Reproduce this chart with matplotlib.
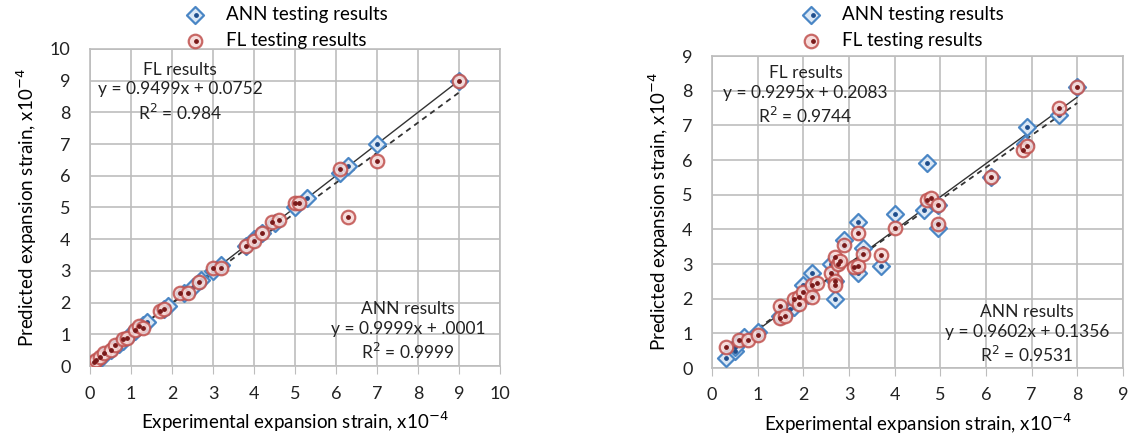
import numpy as np
import matplotlib
matplotlib.use('Agg')
import matplotlib.pyplot as plt
from matplotlib.legend_handler import HandlerTuple

plt.rcParams['font.family'] = ['Lato', 'DejaVu Sans']

# --- dados: grafico da esquerda ---
ann1_x = [0.1, 0.2, 0.3, 0.5, 0.7, 0.8, 1.0, 1.1, 1.3, 1.4, 1.8, 1.9, 2.3, 2.5, 2.7,
          3.0, 3.2, 3.8, 4.0, 4.2, 4.5, 5.0, 5.3, 6.1, 6.3, 7.0, 9.0]
ann1_y = [0.1, 0.2, 0.3, 0.5, 0.7, 0.8, 1.0, 1.1, 1.3, 1.4, 1.8, 1.9, 2.3, 2.5, 2.7,
          3.0, 3.2, 3.8, 4.0, 4.2, 4.5, 5.0, 5.3, 6.1, 6.3, 7.0, 9.0]
fl1_x = [0.1, 0.15, 0.25, 0.35, 0.5, 0.6, 0.8, 0.9, 1.1, 1.2, 1.3, 1.7, 1.8, 2.2, 2.4,
         2.65, 3.0, 3.2, 3.8, 4.0, 4.2, 4.45, 4.6, 5.0, 5.1, 6.1, 6.3, 7.0, 9.0]
fl1_y = [0.12, 0.2, 0.3, 0.4, 0.5, 0.65, 0.85, 0.9, 1.15, 1.25, 1.2, 1.75, 1.8, 2.3, 2.3,
         2.65, 3.1, 3.1, 3.8, 3.95, 4.2, 4.55, 4.6, 5.15, 5.15, 6.2, 4.7, 6.45, 9.0]

# --- dados: grafico da direita ---
ann2_x = [0.3, 0.5, 0.5, 0.7, 1.0, 1.5, 1.7, 1.8, 2.0, 2.1, 2.2, 2.6, 2.7, 2.7, 2.9,
          3.2, 3.2, 3.3, 3.7, 4.0, 4.65, 4.7, 4.95, 4.95, 6.1, 6.85, 6.9, 7.6, 8.0]
ann2_y = [0.3, 0.5, 0.6, 0.9, 1.05, 1.5, 1.7, 1.75, 2.4, 2.1, 2.75, 3.0, 2.5, 2.0, 3.7,
          4.2, 2.75, 3.45, 2.95, 4.45, 4.55, 5.9, 4.7, 4.05, 5.5, 6.45, 6.95, 7.3, 8.1]
fl2_x = [0.3, 0.6, 0.8, 1.0, 1.5, 1.5, 1.6, 1.8, 1.9, 1.9, 2.0, 2.2, 2.2, 2.3, 2.6,
         2.7, 2.7, 2.7, 2.75, 2.8, 2.9, 3.1, 3.2, 3.2, 3.3, 3.7, 4.0, 4.7, 4.8,
         4.95, 4.95, 6.1, 6.8, 6.9, 7.6, 8.0]
fl2_y = [0.6, 0.8, 0.8, 0.95, 1.8, 1.45, 1.5, 2.0, 2.05, 1.85, 2.2, 2.4, 2.05, 2.45, 2.75,
         3.2, 2.5, 2.4, 3.0, 3.1, 3.55, 2.9, 2.95, 3.9, 3.3, 3.25, 4.05, 4.85, 4.9,
         4.7, 4.15, 5.5, 6.3, 6.4, 7.5, 8.1]

# regressoes (coeficientes do grafico original)
ann1_fit = (0.9999, 0.0001)
fl1_fit = (0.9499, 0.0752)
ann2_fit = (0.9602, 0.1356)
fl2_fit = (0.9295, 0.2083)

ann_edge, ann_face, ann_dot = '#4a86c5', '#dce8f5', '#1f4e8c'
fl_edge, fl_face, fl_dot = '#c0504d', '#f6d8d6', '#7a1a1a'
grid_c = '#bdbdbd'


def plot_panel(ax, ax_x, ax_y, fx, fy, ann_fit, fl_fit, lim, fl_txt, ann_txt, fl_pos, ann_pos):
    ax.set_xlim(0, lim)
    ax.set_ylim(0, lim)
    ax.set_xticks(range(lim + 1))
    ax.set_yticks(range(lim + 1))
    ax.grid(True, color=grid_c, linewidth=1.2)
    ax.set_axisbelow(True)
    for s in ax.spines.values():
        s.set_color(grid_c)
        s.set_linewidth(1.2)
    ax.tick_params(axis='y', length=0, labelsize=13, pad=14, colors='#222222')
    ax.tick_params(axis='x', length=6, color=grid_c, labelsize=13, pad=8,
                   colors='#222222')

    # linhas de tendencia
    xa = np.array([min(ax_x), max(ax_x)])
    ax.plot(xa, ann_fit[0] * xa + ann_fit[1], color='#333333', lw=1.0, zorder=3)
    xf = np.array([min(fx), max(fx)])
    ax.plot(xf, fl_fit[0] * xf + fl_fit[1], color='#333333', lw=1.3,
            ls=(0, (3, 2.5)), zorder=3)

    a1 = ax.scatter(ax_x, ax_y, marker='D', s=75, facecolor=ann_face, edgecolor=ann_edge,
                    linewidth=1.6, zorder=4)
    a2 = ax.scatter(ax_x, ax_y, marker='o', s=6, color=ann_dot, zorder=5)
    f1 = ax.scatter(fx, fy, marker='o', s=95, facecolor=fl_face, edgecolor=fl_edge,
                    linewidth=1.6, alpha=0.85, zorder=6)
    f2 = ax.scatter(fx, fy, marker='o', s=6, color=fl_dot, zorder=7)

    ax.text(fl_pos[0], fl_pos[1], fl_txt, ha='center', va='top', fontsize=12.5,
            linespacing=1.3, color='#222222')
    ax.text(ann_pos[0], ann_pos[1], ann_txt, ha='center', va='top', fontsize=12.5,
            linespacing=1.3, color='#222222')

    ax.set_xlabel('Experimental expansion strain, x10$^{-4}$', fontsize=13.5, labelpad=6)
    ax.set_ylabel('Predicted expansion strain, x10$^{-4}$', fontsize=13.5, labelpad=8)
    return (a1, a2), (f1, f2)


fig = plt.figure(figsize=(11.31, 4.40), dpi=100)
ax1 = fig.add_axes([0.0796, 0.168, 0.3625, 0.721])
ax2 = fig.add_axes([0.6295, 0.1636, 0.3634, 0.7091])

h_ann, h_fl = plot_panel(
    ax1, ann1_x, ann1_y, fl1_x, fl1_y, ann1_fit, fl1_fit, 10,
    'FL results\ny = 0.9499x + 0.0752\nR$^2$ = 0.984',
    'ANN results\ny = 0.9999x + .0001\nR$^2$ = 0.9999',
    (2.2, 9.6), (7.75, 2.05))
plot_panel(
    ax2, ann2_x, ann2_y, fl2_x, fl2_y, ann2_fit, fl2_fit, 9,
    'FL results\ny = 0.9295x + 0.2083\nR$^2$ = 0.9744',
    'ANN results\ny = 0.9602x + 0.1356\nR$^2$ = 0.9531',
    (2.05, 8.75), (6.9, 1.85))

for xl in (0.148, 0.693):
    fig.legend([h_ann, h_fl], ['ANN testing results', 'FL testing results'],
               handler_map={tuple: HandlerTuple(ndivide=None, pad=-1.0)},
               loc='upper left', bbox_to_anchor=(xl, 1.025), frameon=False,
               fontsize=13.5, handlelength=1.2, handletextpad=1.0,
               labelspacing=0.5)

fig.savefig('out.png', dpi=100)
